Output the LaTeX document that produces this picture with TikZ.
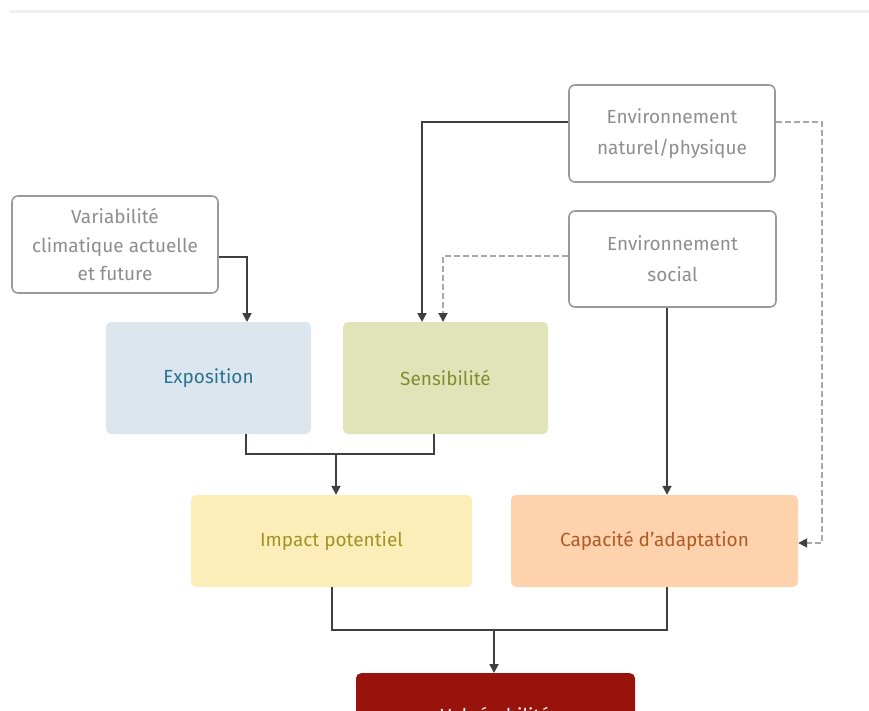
\documentclass[tikz,border=0pt]{standalone}
\usepackage{fontspec}
\setmainfont{Fira Sans}
\usetikzlibrary{arrows.meta}
\definecolor{linegray}{HTML}{3F3F3F}
\definecolor{dashgray}{HTML}{A8A8A8}
\definecolor{boxborder}{HTML}{9A9A9A}
\definecolor{boxtext}{HTML}{8E8E8E}
\definecolor{expfill}{HTML}{DCE6EE}
\definecolor{exptext}{HTML}{2A7391}
\definecolor{sensfill}{HTML}{E1E4B9}
\definecolor{senstext}{HTML}{7F8E2E}
\definecolor{impfill}{HTML}{FCEDB9}
\definecolor{imptext}{HTML}{A09425}
\definecolor{capfill}{HTML}{FDD2AD}
\definecolor{captext}{HTML}{AE5C26}
\definecolor{vulfill}{HTML}{98130B}
\tikzset{
  srcbox/.style={draw=boxborder, line width=1.6pt, rounded corners=6pt, fill=white,
    text=boxtext, align=center, inner sep=0pt},
  colbox/.style={rounded corners=5pt, inner sep=0pt, align=center,
    font=\fontsize{19}{23}\selectfont},
  conn/.style={draw=linegray, line width=1.8pt, -{Triangle[length=9pt,width=9pt]}},
  connplain/.style={draw=linegray, line width=1.8pt},
  dconn/.style={draw=dashgray, line width=1.8pt, dash pattern=on 6pt off 3pt, -{Triangle[length=9pt,width=9pt,color=linegray,fill=linegray]}},
}
\begin{document}
\begin{tikzpicture}[x=1pt,y=-1pt]
\useasboundingbox (0,0) rectangle (869,710);
\clip (0,0) rectangle (869,710);
% top strip
\fill[gray!12] (10,9.5) rectangle (869,13);
% source boxes
\node[srcbox, minimum width=206pt, minimum height=97pt, font=\fontsize{19}{28.5}\selectfont] (var) at (115,244.5) {Variabilité\\climatique actuelle\\et future};
\node[srcbox, minimum width=206pt, minimum height=97pt, font=\fontsize{19}{31.5}\selectfont] (nat) at (672,133.5) {Environnement\\naturel/physique};
\node[srcbox, minimum width=207pt, minimum height=96pt, font=\fontsize{19}{31}\selectfont] (soc) at (672.5,259) {Environnement\\social};
% coloured boxes
\node[colbox, fill=expfill, text=exptext, minimum width=205pt, minimum height=112pt] (exp) at (208.5,378) {Exposition};
\node[colbox, fill=sensfill, text=senstext, minimum width=205pt, minimum height=112pt] (sens) at (445.5,378) {Sensibilité};
\node[colbox, fill=impfill, text=imptext, minimum width=281pt, minimum height=92pt] (imp) at (331.5,541) {Impact potentiel};
\node[colbox, fill=capfill, text=captext, minimum width=287pt, minimum height=92pt] (cap) at (654.5,541) {Capacité d'adaptation};
\node[colbox, fill=vulfill, minimum width=279pt, minimum height=92pt, anchor=north] (vul) at (495.5,673) {};
\node[font=\fontsize{19}{23}\selectfont, text=white, anchor=base, inner sep=0pt] (vultext) at (495.5,722) {Vulnérabilité};
% junction coordinates
\coordinate (j1) at (336,454);
\coordinate (j2) at (494,630);
% connectors
\draw[conn] (var.east |- 0,257) -| (247,322);
\draw[conn] (nat.west |- 0,122) -| (422,322);
\draw[dconn] (soc.west |- 0,256) -| (443,322);
\draw[dconn] (nat.east |- 0,122) -| (822,543) -- (cap.east |- 0,543);
\draw[conn] (soc.south -| 667,0) -- (cap.north -| 667,0);
\draw[connplain] (exp.south -| 246,0) |- (j1) -| (sens.south -| 434,0);
\draw[conn] (j1) -- (imp.north -| j1);
\draw[connplain] (imp.south -| 332,0) |- (j2) -| (cap.south -| 667,0);
\draw[conn] (j2) -- (vul.north -| j2);
\end{tikzpicture}
\end{document}
